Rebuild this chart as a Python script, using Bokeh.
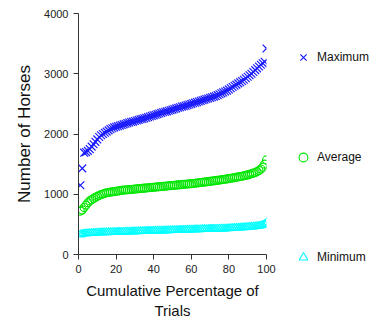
from bokeh.plotting import figure
from bokeh.models import Legend, LegendItem, Range1d, FixedTicker
from bokeh.embed import file_html
from bokeh.resources import INLINE

pct = [1, 2, 3, 4, 5, 6, 7, 8, 9, 10, 11, 12, 13, 14, 15, 16, 17, 18, 19, 20,
       21, 22, 23, 24, 25, 26, 27, 28, 29, 30, 31, 32, 33, 34, 35, 36, 37, 38, 39, 40,
       41, 42, 43, 44, 45, 46, 47, 48, 49, 50, 51, 52, 53, 54, 55, 56, 57, 58, 59, 60,
       61, 62, 63, 64, 65, 66, 67, 68, 69, 70, 71, 72, 73, 74, 75, 76, 77, 78, 79, 80,
       81, 82, 83, 84, 85, 86, 87, 88, 89, 90, 91, 92, 93, 94, 95, 96, 97, 98, 99, 100]

maximum = [1150, 1430, 1690, 1700, 1720, 1750, 1790, 1830, 1870, 1910,
           1950, 1980, 2000, 2020, 2040, 2060, 2080, 2095, 2110, 2120,
           2130, 2140, 2150, 2160, 2170, 2180, 2190, 2200, 2205, 2215,
           2225, 2235, 2245, 2250, 2260, 2270, 2280, 2290, 2300, 2310,
           2320, 2330, 2340, 2350, 2360, 2370, 2375, 2385, 2395, 2405,
           2415, 2425, 2435, 2445, 2455, 2460, 2470, 2480, 2490, 2500,
           2510, 2520, 2530, 2540, 2550, 2560, 2570, 2580, 2590, 2600,
           2610, 2620, 2630, 2645, 2660, 2675, 2690, 2705, 2720, 2740,
           2760, 2780, 2800, 2820, 2840, 2860, 2880, 2900, 2925, 2950,
           2975, 3000, 3030, 3060, 3090, 3120, 3150, 3175, 3200, 3420]

average = [720, 740, 780, 820, 860, 890, 910, 930, 950, 965,
           980, 995, 1005, 1015, 1025, 1030, 1035, 1040, 1045, 1050,
           1055, 1060, 1065, 1068, 1071, 1074, 1077, 1080, 1083, 1086,
           1089, 1092, 1095, 1098, 1101, 1104, 1107, 1110, 1113, 1116,
           1119, 1122, 1125, 1128, 1131, 1134, 1137, 1140, 1143, 1146,
           1149, 1152, 1155, 1158, 1161, 1164, 1167, 1170, 1173, 1176,
           1179, 1182, 1186, 1190, 1194, 1198, 1202, 1206, 1210, 1214,
           1218, 1222, 1226, 1230, 1235, 1240, 1245, 1250, 1255, 1260,
           1265, 1270, 1276, 1282, 1288, 1294, 1300, 1307, 1314, 1321,
           1330, 1340, 1350, 1360, 1375, 1395, 1420, 1450, 1500, 1570]

minimum = [330, 340, 345, 350, 352, 354, 356, 358, 360, 362,
           364, 365, 366, 367, 368, 369, 370, 371, 372, 373,
           374, 375, 376, 377, 378, 379, 380, 381, 382, 383,
           384, 385, 386, 387, 388, 389, 390, 391, 392, 393,
           394, 395, 396, 397, 398, 399, 400, 401, 402, 403,
           404, 405, 406, 407, 408, 409, 410, 411, 412, 413,
           414, 415, 416, 417, 418, 419, 420, 421, 422, 423,
           424, 425, 426, 427, 428, 429, 430, 431, 432, 434,
           436, 438, 440, 442, 444, 446, 448, 450, 452, 455,
           458, 461, 464, 467, 470, 475, 480, 490, 505, 530]

x_ticks = [0, 20, 40, 60, 80, 100]
y_ticks = [0, 1000, 2000, 3000, 4000]

FONT = "Liberation Sans"

p = figure(frame_width=188, frame_height=241, output_backend="svg", toolbar_location=None,
           x_range=Range1d(0, 100), y_range=Range1d(0, 4000),
           min_border_left=78, min_border_right=106, min_border_top=13, min_border_bottom=60)
p.outline_line_color = None
p.grid.grid_line_color = None
p.background_fill_color = "white"
p.border_fill_color = "white"

for ax in (p.xaxis[0], p.yaxis[0]):
    ax.major_label_text_font = FONT
    ax.major_label_text_font_size = "11px"
    ax.major_label_text_color = "#222222"
    ax.axis_label_text_font = FONT
    ax.axis_label_text_font_style = "normal"
    ax.axis_label_text_color = "#111111"
    ax.axis_line_color = "#333333"
    ax.major_tick_line_color = "#333333"
    ax.major_tick_in = 0
    ax.major_tick_out = 5
    ax.minor_tick_line_color = None

p.xaxis.ticker = FixedTicker(ticks=x_ticks)
p.yaxis.ticker = FixedTicker(ticks=y_ticks)
p.xaxis.axis_label = "Cumulative Percentage of\nTrials"
p.yaxis.axis_label = "Number of Horses"
p.xaxis.axis_label_text_font_size = "15px"
p.yaxis.axis_label_text_font_size = "17px"
p.yaxis.axis_label_standoff = 7
p.xaxis.axis_label_standoff = 6

r_max = p.scatter(pct, maximum, marker="x", size=11, line_color="#1a1aff", line_width=1.2)
r_avg = p.scatter(pct, average, marker="circle", size=8, fill_color=None,
                  line_color="#00e600", line_width=1.1)
r_min = p.scatter(pct, minimum, marker="triangle", size=8, fill_color=None,
                  line_color="#00ffff", line_width=1.1)

legend = Legend(items=[LegendItem(label="Maximum", renderers=[r_max]),
                       LegendItem(label="Average", renderers=[r_avg]),
                       LegendItem(label="Minimum", renderers=[r_min])],
                location=(26, -14), spacing=78, padding=0, margin=0,
                glyph_width=22, glyph_height=22, label_standoff=3,
                label_height=22,
                label_text_font=FONT, label_text_font_size="12px",
                label_text_color="#111111",
                border_line_color=None, background_fill_alpha=0)
p.add_layout(legend, "right")

open("out.html", "w").write(file_html(p, INLINE))
